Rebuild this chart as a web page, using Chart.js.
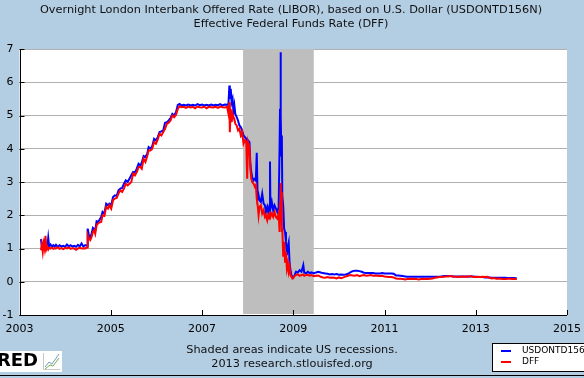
<!DOCTYPE html>
<html><head><meta charset="utf-8">
<script src="https://cdn.jsdelivr.net/npm/chart.js@4/dist/chart.umd.min.js"></script>
<style>html,body{margin:0;padding:0;background:#b3cde3;}#wrap{width:584px;height:378px;}</style>
</head><body><div id="wrap"><canvas id="c" width="584" height="378"></canvas></div>
<script>
const titleLines = ["Overnight London Interbank Offered Rate (LIBOR), based on U.S. Dollar (USDONTD156N)", "Effective Federal Funds Rate (DFF)"];
const footerLines = ["Shaded areas indicate US recessions.", "2013 research.stlouisfed.org"];
const seriesNames = ["USDONTD156N", "DFF"];
const xTicks = [2003, 2005, 2007, 2009, 2011, 2013, 2015];
const yTicks = [-1, 0, 1, 2, 3, 4, 5, 6, 7];
const recession = [2007.90, 2009.45];
const dates = [
2003.47,2003.49,2003.51,2003.53,2003.55,2003.57,2003.59,2003.61,2003.63,2003.65,2003.68,2003.71,2003.74,2003.77,2003.80,2003.84,2003.88,2003.92,2003.96,
2004.00,2004.04,2004.08,2004.12,2004.16,2004.20,2004.24,2004.28,2004.32,2004.36,2004.40,2004.44,2004.48,2004.495,2004.52,2004.55,2004.58,2004.61,2004.64,2004.66,2004.69,2004.72,2004.75,2004.79,2004.82,2004.86,2004.90,2004.94,2004.97,
2005.01,2005.05,2005.09,2005.13,2005.17,2005.21,2005.25,2005.29,2005.33,2005.37,2005.41,2005.45,2005.49,2005.53,2005.57,2005.61,2005.65,2005.68,2005.72,2005.76,2005.80,2005.83,2005.87,2005.91,2005.95,2005.99,
2006.03,2006.07,2006.11,2006.15,2006.19,2006.23,2006.27,2006.31,2006.35,2006.39,2006.43,2006.47,2006.51,2006.55,2006.60,2006.65,2006.70,2006.75,2006.80,2006.85,2006.90,2006.95,
2007.00,2007.05,2007.10,2007.15,2007.20,2007.25,2007.30,2007.35,2007.40,2007.45,2007.50,2007.55,2007.58,2007.60,2007.61,2007.63,2007.65,2007.67,2007.69,2007.71,2007.73,2007.76,2007.79,2007.82,2007.85,2007.88,2007.91,2007.94,2007.97,2007.99,
2008.01,2008.04,2008.06,2008.08,2008.10,2008.13,2008.16,2008.18,2008.20,2008.22,2008.24,2008.26,2008.29,2008.32,2008.35,2008.38,2008.40,2008.43,2008.45,2008.48,2008.49,2008.50,2008.53,2008.56,2008.59,2008.62,2008.65,2008.68,2008.70,2008.71,2008.72,2008.73,2008.74,2008.75,2008.76,2008.78,2008.80,2008.82,2008.84,2008.86,2008.88,2008.90,2008.92,2008.94,2008.96,2008.98,
2009.00,2009.03,2009.06,2009.10,2009.14,2009.18,2009.22,2009.24,2009.28,2009.32,2009.36,2009.40,2009.45,2009.50,2009.55,2009.60,2009.65,2009.70,2009.75,2009.80,2009.85,2009.90,2009.95,
2010.00,2010.05,2010.10,2010.15,2010.20,2010.25,2010.30,2010.35,2010.40,2010.45,2010.50,2010.55,2010.60,2010.65,2010.70,2010.75,2010.80,2010.85,2010.90,2010.95,
2011.00,2011.05,2011.10,2011.15,2011.20,2011.25,2011.30,2011.35,2011.40,2011.45,2011.50,2011.55,2011.60,2011.65,2011.70,2011.75,2011.80,2011.85,2011.90,2011.95,
2012.00,2012.05,2012.10,2012.15,2012.20,2012.25,2012.30,2012.35,2012.40,2012.45,2012.50,2012.55,2012.60,2012.65,2012.70,2012.75,2012.80,2012.85,2012.90,2012.95,
2013.00,2013.05,2013.10,2013.15,2013.20,2013.25,2013.30,2013.35,2013.40,2013.45,2013.50,2013.55,2013.60,2013.65,2013.70,2013.75,2013.80,2013.85,2013.90];
const libor = [
1.28,1.05,1.12,1.05,1.18,1.05,1.12,1.06,1.32,1.06,1.12,1.05,1.10,1.06,1.11,1.05,1.10,1.06,1.08,
1.05,1.12,1.06,1.10,1.06,1.08,1.05,1.11,1.06,1.15,1.06,1.10,1.08,1.60,1.40,1.32,1.45,1.62,1.58,1.55,1.82,1.80,1.85,1.95,2.10,2.05,2.35,2.30,2.35,
2.30,2.55,2.60,2.58,2.75,2.80,2.82,2.95,3.05,3.00,3.10,3.20,3.30,3.28,3.40,3.55,3.50,3.58,3.78,3.75,3.85,4.05,4.00,4.08,4.30,4.25,
4.35,4.50,4.52,4.55,4.78,4.80,4.85,4.92,5.05,5.00,5.10,5.32,5.35,5.30,5.32,5.30,5.33,5.30,5.32,5.30,5.34,5.31,
5.33,5.30,5.32,5.30,5.33,5.30,5.32,5.31,5.34,5.30,5.33,5.32,5.35,5.90,5.50,5.80,5.40,5.50,5.10,5.30,5.05,4.95,4.85,4.70,4.65,4.55,4.40,4.35,4.30,4.10,
4.25,4.20,3.55,3.30,3.15,3.05,3.10,3.05,3.88,2.50,2.60,2.45,2.40,2.65,2.35,2.30,2.10,2.25,2.10,2.30,3.62,2.20,2.40,2.15,2.30,2.20,2.10,2.25,4.00,5.20,6.90,5.00,3.80,4.40,2.60,2.30,1.60,1.50,1.20,0.80,1.05,1.18,0.55,0.35,0.20,0.15,
0.12,0.20,0.30,0.28,0.35,0.30,0.50,0.28,0.25,0.30,0.26,0.28,0.25,0.28,0.30,0.28,0.26,0.25,0.24,0.22,0.23,0.22,0.23,
0.21,0.22,0.21,0.22,0.24,0.28,0.32,0.33,0.33,0.32,0.30,0.27,0.26,0.26,0.26,0.26,0.25,0.25,0.25,0.26,
0.25,0.25,0.25,0.25,0.24,0.19,0.19,0.18,0.17,0.16,0.15,0.15,0.15,0.15,0.15,0.15,0.15,0.15,0.15,0.15,
0.15,0.15,0.15,0.15,0.15,0.16,0.17,0.17,0.17,0.17,0.16,0.16,0.16,0.16,0.16,0.16,0.16,0.16,0.16,0.16,
0.15,0.14,0.14,0.14,0.13,0.13,0.13,0.12,0.12,0.12,0.12,0.12,0.12,0.12,0.11,0.11,0.11,0.11,0.10];
const dff = [
0.95,1.12,0.90,1.15,1.00,1.38,0.98,1.05,0.97,1.02,1.00,1.03,0.99,1.01,1.00,1.04,0.99,1.01,0.98,
1.02,1.00,1.03,0.99,1.01,1.00,0.96,1.00,1.02,1.00,1.01,1.00,1.03,1.40,1.30,1.25,1.35,1.50,1.55,1.45,1.70,1.75,1.78,1.80,2.00,1.98,2.25,2.20,2.30,
2.20,2.45,2.50,2.52,2.65,2.75,2.70,2.80,2.95,2.90,2.95,3.00,3.25,3.20,3.30,3.45,3.45,3.40,3.70,3.60,3.78,3.95,3.95,4.00,4.20,4.15,
4.28,4.45,4.40,4.50,4.60,4.75,4.78,4.85,5.00,4.95,5.02,5.20,5.28,5.25,5.26,5.23,5.27,5.24,5.26,5.22,5.27,5.25,
5.24,5.27,5.22,5.26,5.25,5.24,5.26,5.23,5.27,5.25,5.24,5.26,5.05,5.40,4.50,5.20,4.80,5.05,4.95,4.90,4.75,4.70,4.55,4.60,4.40,4.50,4.15,4.25,4.20,3.10,
4.20,4.05,3.40,3.10,3.00,2.95,2.85,2.90,2.50,2.30,2.00,2.25,2.30,2.05,2.15,1.95,2.00,1.85,2.00,1.90,2.10,1.95,2.05,1.95,2.10,1.95,1.90,2.05,1.50,2.40,2.97,2.00,2.70,1.50,1.60,0.75,1.20,0.60,0.90,0.40,0.55,0.30,0.45,0.20,0.15,0.10,
0.12,0.18,0.20,0.22,0.18,0.20,0.22,0.18,0.20,0.21,0.18,0.20,0.17,0.18,0.19,0.15,0.13,0.12,0.14,0.12,0.13,0.12,0.10,
0.13,0.11,0.13,0.16,0.18,0.20,0.19,0.18,0.20,0.17,0.19,0.20,0.18,0.19,0.20,0.18,0.19,0.18,0.17,0.18,
0.16,0.15,0.14,0.14,0.13,0.10,0.09,0.09,0.08,0.07,0.08,0.08,0.09,0.08,0.08,0.07,0.08,0.09,0.08,0.08,
0.09,0.10,0.12,0.13,0.14,0.14,0.15,0.16,0.16,0.17,0.16,0.15,0.14,0.15,0.16,0.15,0.16,0.15,0.17,0.14,
0.14,0.15,0.14,0.15,0.14,0.15,0.12,0.10,0.11,0.09,0.10,0.09,0.08,0.08,0.09,0.09,0.08,0.09,0.08];

const FONT = "'DejaVu Sans', Verdana, sans-serif";

const decor = {
  id: 'decor',
  beforeDraw(chart) {
    const {ctx, chartArea: a} = chart;
    ctx.save();
    ctx.fillStyle = '#ffffff';
    ctx.fillRect(a.left, a.top, a.right - a.left, a.bottom - a.top);
    ctx.restore();
  },
  beforeDatasetsDraw(chart) {
    const {ctx, chartArea: a, scales: {x}} = chart;
    const x0 = x.getPixelForValue(recession[0]), x1 = x.getPixelForValue(recession[1]);
    ctx.save();
    ctx.fillStyle = '#bebebe';
    ctx.fillRect(x0, a.top, x1 - x0, a.bottom - a.top - 1);
    ctx.restore();
  },
  afterDatasetsDraw(chart) {
    const {ctx, chartArea: a, scales: {x, y}} = chart;
    ctx.save();
    ctx.strokeStyle = '#000';
    ctx.lineWidth = 1;
    ctx.beginPath();
    yTicks.forEach(v => { const py = Math.round(y.getPixelForValue(v)) + 0.5; ctx.moveTo(a.left, py); ctx.lineTo(a.left + 5, py); });
    xTicks.forEach(v => { const px = Math.round(x.getPixelForValue(v)) + 0.5; ctx.moveTo(px, a.bottom); ctx.lineTo(px, a.bottom - 5); });
    ctx.stroke();
    ctx.beginPath();
    ctx.moveTo(Math.round(a.left) + 0.5, a.top); ctx.lineTo(Math.round(a.left) + 0.5, a.bottom);
    ctx.moveTo(a.left, Math.round(a.bottom) + 0.5); ctx.lineTo(a.right, Math.round(a.bottom) + 0.5);
    ctx.stroke();
    ctx.restore();
  },
  afterDraw(chart) {
    const {ctx} = chart;
    ctx.save();
    ctx.fillStyle = '#111';
    ctx.textAlign = 'center';
    ctx.textBaseline = 'middle';
    ctx.font = '11.3px ' + FONT;
    ctx.fillText(titleLines[0], 291, 10);
    ctx.fillText(titleLines[1], 291, 24);
    ctx.fillText(footerLines[0], 292, 350);
    ctx.fillText(footerLines[1], 292, 364);
    // legend
    ctx.fillStyle = '#fff';
    ctx.fillRect(493, 343, 100, 29);
    ctx.strokeStyle = '#000';
    ctx.lineWidth = 1;
    ctx.strokeRect(492.5, 343.5, 100, 28);
    ctx.lineWidth = 2;
    ctx.strokeStyle = '#0000ff';
    ctx.beginPath(); ctx.moveTo(501, 351); ctx.lineTo(511, 351); ctx.stroke();
    ctx.strokeStyle = '#ff0000';
    ctx.beginPath(); ctx.moveTo(501, 362); ctx.lineTo(511, 362); ctx.stroke();
    ctx.fillStyle = '#000';
    ctx.textAlign = 'left';
    ctx.font = '9px ' + FONT;
    ctx.fillText(seriesNames[0], 522, 351);
    ctx.fillText(seriesNames[1], 522, 362);
    // logo
    ctx.fillStyle = '#fff';
    ctx.fillRect(0, 351, 62, 21);
    ctx.fillStyle = '#000';
    ctx.font = "bold 18px 'DejaVu Sans', sans-serif";
    ctx.textAlign = 'right';
    ctx.fillText('FRED', 38, 361);
    ctx.strokeStyle = '#c8c8c8';
    ctx.lineWidth = 1;
    ctx.beginPath(); ctx.moveTo(43.5, 353); ctx.lineTo(43.5, 369.5); ctx.lineTo(60, 369.5); ctx.stroke();
    ctx.strokeStyle = '#6a9fc8';
    ctx.beginPath(); ctx.moveTo(45, 367); ctx.lineTo(49, 362); ctx.lineTo(52, 364); ctx.lineTo(59, 354); ctx.stroke();
    ctx.strokeStyle = '#7ab04a';
    ctx.beginPath(); ctx.moveTo(45, 369); ctx.lineTo(50, 365); ctx.lineTo(53, 366); ctx.lineTo(59, 358); ctx.stroke();
    // bottom line
    ctx.strokeStyle = '#000';
    ctx.lineWidth = 1;
    ctx.beginPath(); ctx.moveTo(0, 375.5); ctx.lineTo(584, 375.5); ctx.stroke();
    ctx.restore();
  }
};

new Chart(document.getElementById('c'), {
  type: 'line',
  data: {
    datasets: [
      { label: seriesNames[1], data: dates.map((d, i) => ({x: d, y: dff[i]})), borderColor: '#ff0000', borderWidth: 2, pointRadius: 0, tension: 0, order: 0 },
      { label: seriesNames[0], data: dates.map((d, i) => ({x: d, y: libor[i]})), borderColor: '#0000ff', borderWidth: 2, pointRadius: 0, tension: 0, order: 1 }
    ]
  },
  options: {
    responsive: false,
    animation: false,
    events: [],
    layout: { padding: { left: 0, top: 49, right: 17, bottom: 43 } },
    plugins: { legend: { display: false }, tooltip: { enabled: false }, title: { display: false } },
    scales: {
      x: {
        type: 'linear', min: 2003, max: 2015,
        afterFit(s) { s.height = 20; s.paddingLeft = 0; s.paddingRight = 0; },
        afterBuildTicks(s) { s.ticks = xTicks.map(v => ({value: v})); },
        ticks: { callback: v => String(v), color: '#000', font: { family: FONT, size: 11 }, padding: 8, maxRotation: 0, autoSkip: false },
        grid: { display: false, drawTicks: false },
        border: { display: false }
      },
      y: {
        min: -1, max: 7,
        afterFit(s) { s.width = 19.5; s.paddingTop = 0; s.paddingBottom = 0; },
        afterBuildTicks(s) { s.ticks = yTicks.map(v => ({value: v})); },
        ticks: { callback: v => String(v), color: '#000', font: { family: FONT, size: 11 }, padding: 6 },
        grid: { color: '#b0b0b0', drawTicks: false },
        border: { display: false }
      }
    }
  },
  plugins: [decor]
});
</script>
</body></html>
